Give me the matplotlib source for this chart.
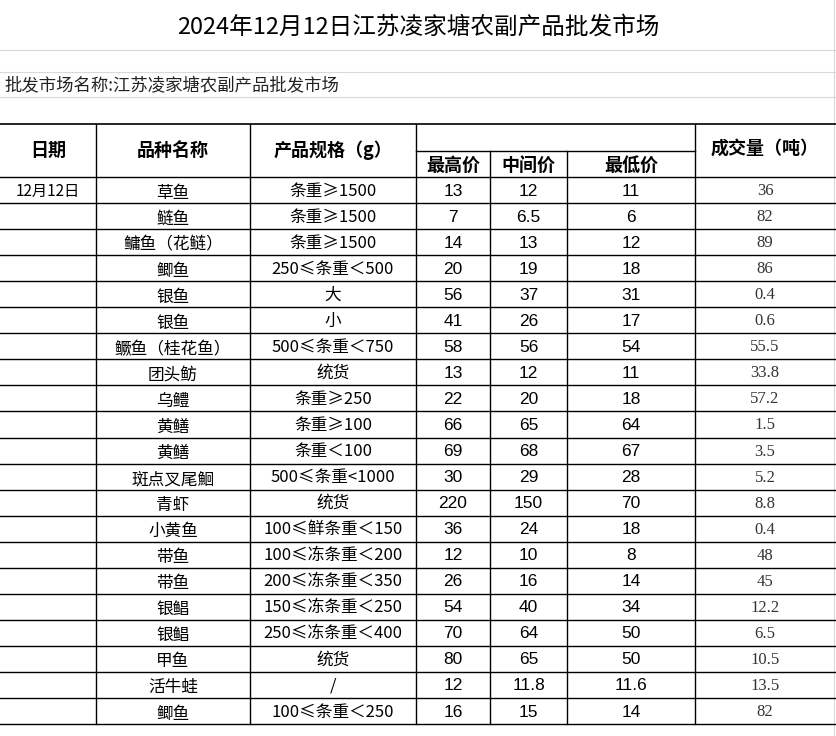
import matplotlib.pyplot as plt

TITLE = "2024年12月12日江苏凌家塘农副产品批发市场"
MARKET = "批发市场名称:江苏凌家塘农副产品批发市场"
DATE = "12月12日"

VARIETIES = ["草鱼", "鲢鱼", "鳙鱼（花鲢）", "鲫鱼", "银鱼", "银鱼", "鳜鱼（桂花鱼）",
             "团头鲂", "乌鳢", "黄鳝", "黄鳝", "斑点叉尾鮰", "青虾", "小黄鱼", "带鱼",
             "带鱼", "银鲳", "银鲳", "甲鱼", "活牛蛙", "鲫鱼"]
SPECS = ["条重≥1500", "条重≥1500", "条重≥1500", "250≤条重＜500", "大", "小",
         "500≤条重＜750", "统货", "条重≥250", "条重≥100", "条重＜100", "500≤条重<1000",
         "统货", "100≤鲜条重＜150", "100≤冻条重＜200", "200≤冻条重＜350",
         "150≤冻条重＜250", "250≤冻条重＜400", "统货", "/", "100≤条重＜250"]
HIGH = ["13", "7", "14", "20", "56", "41", "58", "13", "22", "66", "69", "30", "220",
        "36", "12", "26", "54", "70", "80", "12", "16"]
MID = ["12", "6.5", "13", "19", "37", "26", "56", "12", "20", "65", "68", "29", "150",
       "24", "10", "16", "40", "64", "65", "11.8", "15"]
LOW = ["11", "6", "12", "18", "31", "17", "54", "11", "18", "64", "67", "28", "70",
       "18", "8", "14", "34", "50", "50", "11.6", "14"]
VOLUME = ["36", "82", "89", "86", "0.4", "0.6", "55.5", "33.8", "57.2", "1.5", "3.5",
          "5.2", "8.8", "0.4", "48", "45", "12.2", "6.5", "10.5", "13.5", "82"]

CJK = "Noto Sans CJK SC"
NUM = "Liberation Sans"
COLS = [0, 96, 250, 416, 490, 567, 695, 836]
TOP, SUB, HEAD, ROW = 124, 151, 177, 26.05

fig = plt.figure(figsize=(8.36, 7.36), dpi=100)
ax = fig.add_axes([0, 0, 1, 1])
ax.set_xlim(0, 836)
ax.set_ylim(736, 0)
ax.axis("off")

# light sheet gridlines above the table
for y in [50, 72, 97]:
    ax.plot([0, 836], [y, y], color="#d9d9d9", lw=0.8)
ax.plot([834, 834], [0, 736], color="#d9d9d9", lw=0.8)

ax.text(418, 27, TITLE, ha="center", va="center", fontsize=17, family=CJK)
ax.text(4, 86, MARKET, ha="left", va="center", fontsize=12.5, family=CJK, color="#222")

n = len(VARIETIES)
bottom = HEAD + n * ROW
lc = "black"
ax.plot([0, 836], [TOP, TOP], color=lc, lw=1.2)
ax.plot([416, 695], [SUB, SUB], color=lc, lw=1)
for i in range(n + 1):
    y = HEAD + i * ROW
    ax.plot([0, 836], [y, y], color=lc, lw=1)
for x in [96, 250, 416, 695]:
    ax.plot([x, x], [TOP, bottom], color=lc, lw=1)
for x in [490, 567]:
    ax.plot([x, x], [SUB, bottom], color=lc, lw=1)

hy = (TOP + HEAD) / 2
hkw = dict(ha="center", va="center", fontsize=13, family=CJK, weight="bold")
ax.text(48, hy, "日期", **hkw)
ax.text(173, hy, "品种名称", **hkw)
ax.text(333, hy, "产品规格（g）", **hkw)
ax.text(765, hy - 2, "成交量（吨）", **hkw)
sy = (SUB + HEAD) / 2 + 1
for lab, a, b in [("最高价", 416, 490), ("中间价", 490, 567), ("最低价", 567, 695)]:
    ax.text((a + b) / 2, sy, lab, **hkw)

for i in range(n):
    y = HEAD + (i + 0.5) * ROW + 1
    if i == 0:
        ax.text(48, y, DATE, ha="center", va="center", fontsize=11, family=CJK)
    ax.text(173, y + 2, VARIETIES[i], ha="center", va="center", fontsize=12, family=CJK)
    ax.text(333, y, SPECS[i], ha="center", va="center", fontsize=12, family=CJK)
    for col, vals in [(3, HIGH), (4, MID), (5, LOW)]:
        ax.text((COLS[col] + COLS[col + 1]) / 2, y, vals[i], ha="center", va="center",
                fontsize=12.5, family=NUM)
    ax.text(765, y, VOLUME[i], ha="center", va="center", fontsize=12,
            family="Liberation Serif", color="#333")

fig.savefig("out.png", dpi=100)
